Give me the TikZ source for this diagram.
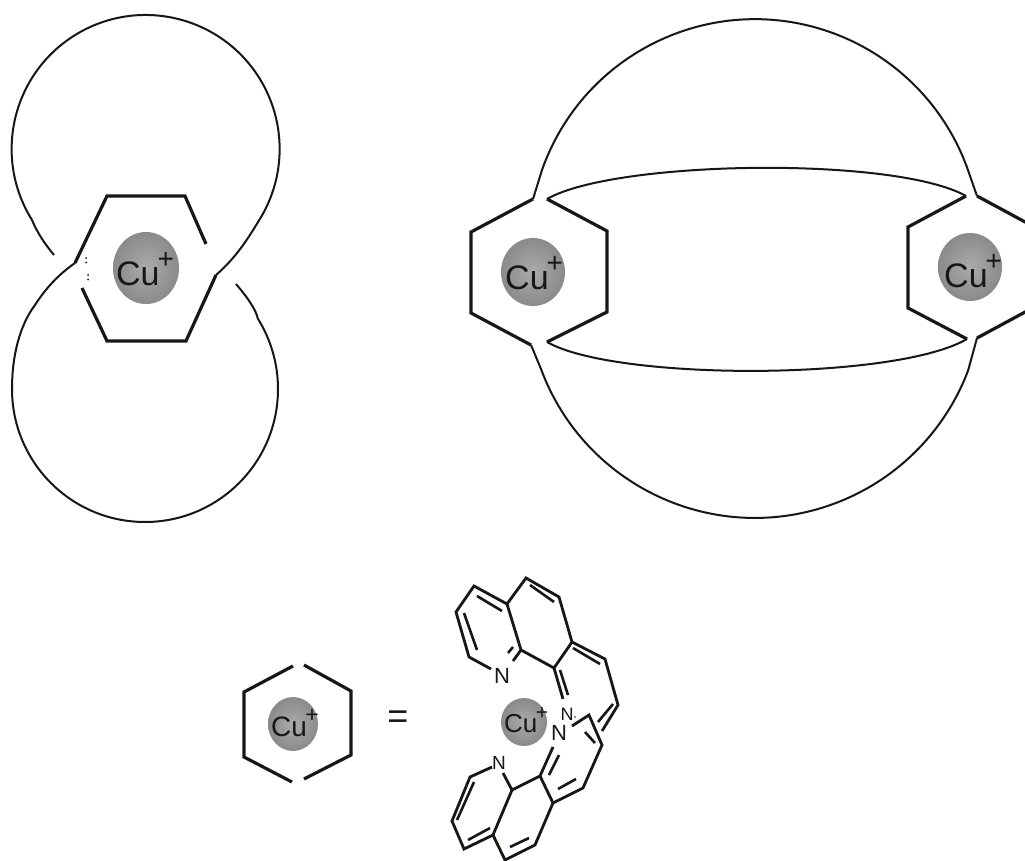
\documentclass[tikz,border=0pt]{standalone}
\usepackage{fontspec}
\setmainfont{Liberation Sans}
\usetikzlibrary{shapes.geometric}
\definecolor{ink}{HTML}{1A1613}
\definecolor{balledge}{HTML}{8A8A8A}
\definecolor{ballmid}{HTML}{ABABAB}
\tikzset{
  thinring/.style={draw=ink,line width=2pt,line join=round},
  hexline/.style={draw=ink,line width=3.2pt,line join=miter},
  bond/.style={draw=ink,line width=2.8pt,line join=miter},
  inner bond/.style={draw=ink,line width=2.6pt},
  ball/.style={ellipse,inner sep=0pt,draw=none,inner color=ballmid,outer color=balledge},
  cutext/.style={anchor=base west,inner sep=0pt,text=ink},
  atom/.style={inner sep=0pt,text=ink}
}
\newcommand{\cu}[2]{\fontsize{#1}{#1}\selectfont Cu\kern-.06em\raisebox{.5em}{\fontsize{#2}{#2}\selectfont +}}
\begin{document}
\begin{tikzpicture}[x=1pt,y=1pt,yscale=-1]
\useasboundingbox (0,0) rectangle (1025,861);
\fill[white] (0,0) rectangle (1025,861);
% ---------- left: two interlocked rings
\draw[thinring] (54,255) .. controls (44,243) and (37,232) .. (32,220) arc[start angle=148,end angle=392,radius=134pt] .. controls (250,235) and (238,256) .. (216,275);
\draw[thinring] (75,263) .. controls (58,275) and (46,288) .. (35,305) .. controls (20,325) and (12,355) .. (12,389) arc[start angle=180,end angle=-32,radius=133pt] .. controls (256,310) and (248,298) .. (236,284);
\draw[hexline] (75,263) -- (107,196) -- (185,196) -- (206,244);
\draw[hexline] (82,288) -- (107,341) -- (186,341) -- (216,275);
\fill[ink] (86,258) circle (1pt) (86,262.5) circle (1pt) (88,275) circle (1pt) (88,279.5) circle (1pt);
\node[ball,minimum width=66pt,minimum height=72pt] (ballA) at (146,268) {};
\node[cutext] (cuA) at (116,285) {\cu{34}{28}};
% ---------- right: two rings and two thin loops
\draw[thinring] (533,199) -- (542,170) arc[start angle=199.4,end angle=340.5,radius=225.8pt] -- (977,196);
\draw[thinring] (531,345) -- (541,369) arc[start angle=159.7,end angle=20.7,radius=228pt] -- (977,338);
\draw[thinring] (547,199) .. controls (615,160) and (895,156) .. (966,196);
\draw[thinring] (547,342) .. controls (615,381) and (895,381) .. (967,339);
\draw[hexline] (533,199) -- (471,232) -- (471,313) -- (531,345);
\draw[hexline] (547,199) -- (607,231) -- (607,312) -- (547,342);
\draw[hexline] (966,196) -- (908,227) -- (908,308) -- (967,339);
\draw[hexline] (977,196) -- (1027,223);
\draw[hexline] (977,338) -- (1027,311);
\node[ball,minimum width=64pt,minimum height=68pt] (ballB) at (533,272) {};
\node[cutext] (cuB) at (505,289) {\cu{34}{28}};
\node[ball,minimum width=64pt,minimum height=68pt] (ballC) at (970,267) {};
\node[cutext] (cuC) at (944,287) {\cu{34}{28}};
% ---------- bottom legend ring
\draw[hexline] (293,666) -- (244,692) -- (244,757) -- (292,782);
\draw[hexline] (304,665) -- (351,691) -- (351,755) -- (304,779);
\node[ball,minimum width=50pt,minimum height=54pt] (ballD) at (293,724) {};
\node[cutext] (cuD) at (271,736) {\cu{28}{23}};
\node[atom,font=\fontsize{36}{36}\selectfont] (eq) at (398,720) {=};
% ---------- phenanthroline complex
\node[ball,minimum width=46pt,minimum height=48pt] (ballE) at (524,722) {};
\node[cutext] (cuE) at (504,732.5) {\cu{26}{21}};
\node[atom,font=\fontsize{22}{22}\selectfont] (n1) at (502,676) {N};
\node[atom,font=\fontsize{18}{18}\selectfont] (n2) at (567,714) {N};
\node[atom,font=\fontsize{22}{22}\selectfont] (n3) at (559,733) {N};
\node[atom,font=\fontsize{19}{19}\selectfont] (n4) at (499,763) {N};
\fill[ink] (575,717) circle (.8pt);
% upper ligand
\draw[bond] (491,669) -- (469,657) -- (456,612) -- (474,586) -- (507,604) -- (521,650) -- (513,661);
\draw[bond] (507,604) -- (526,578) -- (559,597) -- (572,642) -- (554,668) -- (521,650);
\draw[bond] (572,642) -- (605,659) -- (618,705) -- (602,731);
\draw[bond] (554,668) -- (563,699);
\draw[inner bond] (477,596) -- (502,611);
\draw[inner bond] (464,613) -- (477,650);
\draw[inner bond] (508,653) -- (513,647);
\draw[inner bond] (530,585) -- (554,602);
\draw[inner bond] (573,648) -- (600,664);
\draw[inner bond] (560,670) -- (568,695);
\draw[inner bond] (613,704) -- (598,722);
% lower ligand
\draw[bond] (572,726) -- (589,715) -- (602,745) -- (583,788) -- (553,803) -- (540,776) -- (553,747);
\draw[bond] (540,776) -- (512,790) -- (503,773);
\draw[bond] (492,767) -- (470,777) -- (452,821) -- (464,849) -- (493,835) -- (512,790);
\draw[bond] (493,835) -- (505,860) -- (535,845) -- (553,803);
\draw[inner bond] (549,775) -- (559,755);
\draw[inner bond] (474,782) -- (457,820);
\draw[inner bond] (468,840) -- (490,828);
\draw[inner bond] (510,847) -- (529,838);
\draw[inner bond] (558,789) -- (576,779);
\draw[inner bond] (585,732) -- (595,743);
\end{tikzpicture}
\end{document}
